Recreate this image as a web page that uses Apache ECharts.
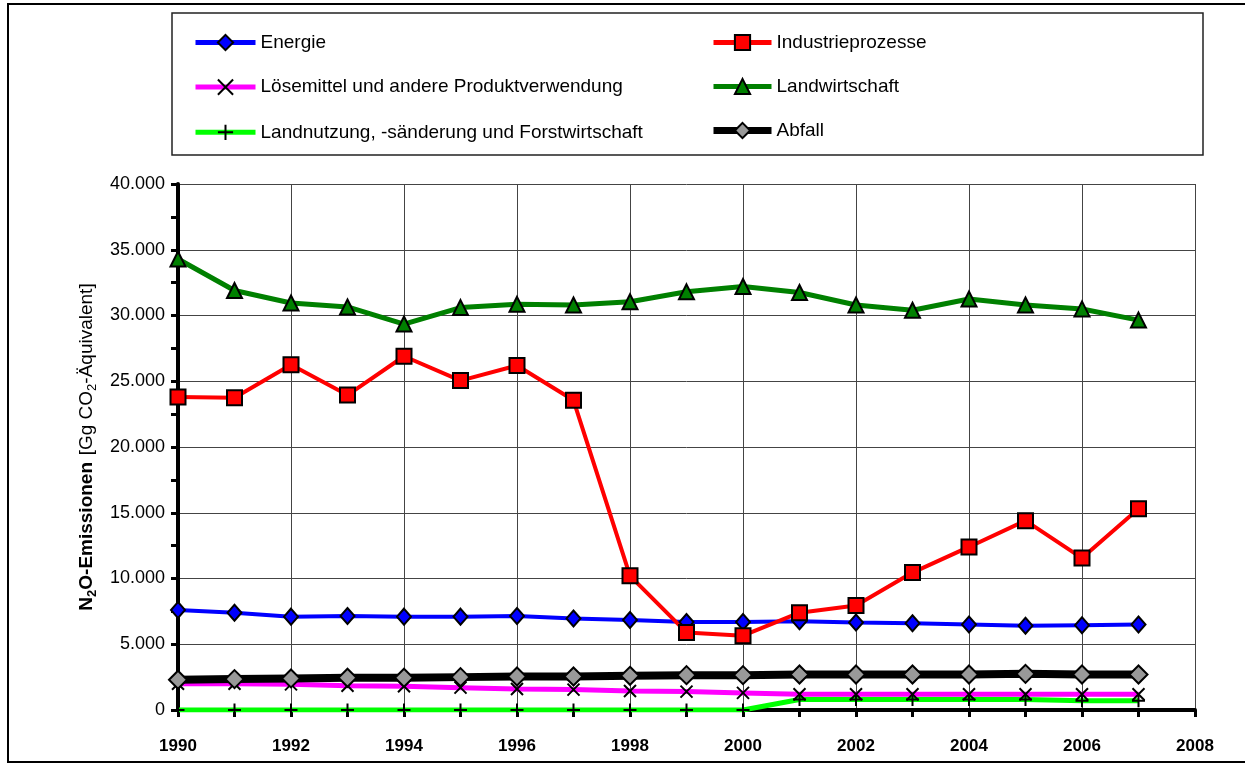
<!DOCTYPE html>
<head>
    <meta charset="utf-8">
    <title>ECharts</title>
</head>
<body style="margin:0">
    <div id="main" style="width:1245px;height:772px"></div>
    <script src="https://cdn.jsdelivr.net/npm/echarts@6/dist/echarts.min.js"></script>
    <script type="text/javascript">
var myChart = echarts.init(document.getElementById('main'));

var years = [1990, 1991, 1992, 1993, 1994, 1995, 1996, 1997, 1998, 1999, 2000, 2001, 2002, 2003, 2004, 2005, 2006, 2007];

var energie = [7600, 7400, 7100, 7150, 7100, 7100, 7150, 6950, 6850, 6700, 6700, 6750, 6650, 6600, 6500, 6400, 6450, 6500];
var industrie = [23800, 23750, 26250, 23950, 26900, 25050, 26200, 23550, 10200, 5900, 5650, 7400, 7950, 10450, 12400, 14400, 11550, 15300];
var loesemittel = [2000, 2000, 1950, 1850, 1800, 1700, 1600, 1550, 1450, 1400, 1300, 1200, 1200, 1200, 1200, 1200, 1200, 1200];
var landwirtschaft = [34300, 31900, 30950, 30650, 29350, 30600, 30850, 30800, 31050, 31800, 32200, 31750, 30800, 30400, 31250, 30800, 30500, 29650];
var landnutzung = [0, 0, 0, 0, 0, 0, 0, 0, 0, 0, 0, 800, 800, 800, 800, 800, 700, 700];
var abfall = [2300, 2350, 2400, 2450, 2450, 2500, 2550, 2550, 2600, 2650, 2650, 2700, 2700, 2700, 2700, 2750, 2700, 2700];

var yTicks = [0, 5000, 10000, 15000, 20000, 25000, 30000, 35000, 40000];

function pairs(vals) {
    return years.map(function (y, i) { return [y, vals[i]]; });
}

var FONT = "'Liberation Sans Narrow', 'Arial Narrow', 'Liberation Sans', sans-serif";
var crossX = 'path://M0,0L10,10M10,0L0,10';
var plus = 'path://M5,0L5,10M0,5L10,5';

function fmt(v) {
    return String(v).replace(/\B(?=(\d{3})+(?!\d))/g, '.');
}

function line(name, vals, color, width, symbol, size, fill, border) {
    return {
        name: name,
        type: 'line',
        data: pairs(vals),
        symbol: symbol,
        symbolSize: size,
        showAllSymbol: true,
        animation: false,
        lineStyle: { color: color, width: width },
        itemStyle: { color: fill, borderColor: border || '#000', borderWidth: 2 }
    };
}

function leg(name, w) {
    return { name: name, lineStyle: { width: w } };
}

var option = {
    animation: false,
    textStyle: { fontFamily: FONT },
    graphic: [
        { type: 'rect', shape: { x: 8, y: 4, width: 1250, height: 758 }, style: { fill: 'none', stroke: '#000', lineWidth: 2 }, z: -1 },
        { type: 'rect', shape: { x: 172, y: 13, width: 1031, height: 142 }, style: { fill: '#fff', stroke: '#222', lineWidth: 1.5 }, z: -1 }
    ],
    legend: [{
        left: 193, top: 33, orient: 'vertical', itemGap: 25, padding: 0,
        itemWidth: 60, itemHeight: 19,
        textStyle: { fontSize: 19, color: '#000', fontFamily: FONT },
        data: [leg('Energie', 5), leg('Lösemittel und andere Produktverwendung', 5), leg('Landnutzung, -sänderung und Forstwirtschaft', 5)]
    }, {
        left: 710, top: 33, orient: 'vertical', itemGap: 25, padding: 0,
        itemWidth: 58, itemHeight: 19,
        textStyle: { fontSize: 19, color: '#000', fontFamily: FONT },
        data: [leg('Industrieprozesse', 5), leg('Landwirtschaft', 5), leg('Abfall', 7)]
    }],
    grid: { left: 178, right: 50, top: 184, bottom: 62 },
    xAxis: {
        type: 'value', min: 1990, max: 2008, interval: 2,
        axisLine: { lineStyle: { color: '#000', width: 4 } },
        axisTick: { show: true, length: 7, lineStyle: { color: '#000', width: 3 } },
        minorTick: { show: true, splitNumber: 2, length: 7, lineStyle: { color: '#000', width: 3 } },
        splitLine: { show: true, lineStyle: { color: '#444', width: 1 } },
        axisLabel: { fontSize: 17, fontWeight: 'bold', color: '#000', margin: 28, fontFamily: FONT, formatter: function (v) { return String(v); } }
    },
    yAxis: {
        type: 'value', min: 0, max: 40000, interval: 5000,
        name: '{b|N}{s|2}{b|O-Emissionen}  {r|[Gg CO}{rs|2}{r|-Äquivalent]}',
        nameLocation: 'middle', nameGap: 68, nameRotate: 90,
        nameTextStyle: {
            rich: {
                b: { fontSize: 19, fontWeight: 'bold', color: '#000', fontFamily: FONT, lineHeight: 24 },
                s: { fontSize: 13, fontWeight: 'bold', color: '#000', fontFamily: FONT, lineHeight: 24, verticalAlign: 'bottom', padding: [10, 0, 0, 0] },
                r: { fontSize: 19, color: '#000', fontFamily: FONT, lineHeight: 24 },
                rs: { fontSize: 13, color: '#000', fontFamily: FONT, lineHeight: 24, verticalAlign: 'bottom', padding: [10, 0, 0, 0] }
            }
        },
        axisLine: { show: true, lineStyle: { color: '#000', width: 4 } },
        axisTick: { show: true, length: 7, lineStyle: { color: '#000', width: 3 } },
        minorTick: { show: true, splitNumber: 2, length: 7, lineStyle: { color: '#000', width: 3 } },
        splitLine: { show: true, lineStyle: { color: '#444', width: 1 } },
        axisLabel: {
            fontSize: 18, color: '#000', margin: 13, fontFamily: FONT,
            customValues: yTicks,
            formatter: function (v) { return fmt(v); }
        }
    },
    series: [
        line('Energie', energie, '#0000ff', 4, 'diamond', [14, 16], '#0000ff'),
        line('Industrieprozesse', industrie, '#ff0000', 4, 'rect', 15, '#ff0000'),
        line('Lösemittel und andere Produktverwendung', loesemittel, '#ff00ff', 5, crossX, 12, 'none'),
        line('Landwirtschaft', landwirtschaft, '#008000', 5, 'triangle', 15, '#008000'),
        line('Landnutzung, -sänderung und Forstwirtschaft', landnutzung, '#00ff00', 5, plus, 13, 'none'),
        line('Abfall', abfall, '#000000', 8, 'diamond', [18, 18], '#999999')
    ]
};

myChart.setOption(option);
    </script>
</body>
